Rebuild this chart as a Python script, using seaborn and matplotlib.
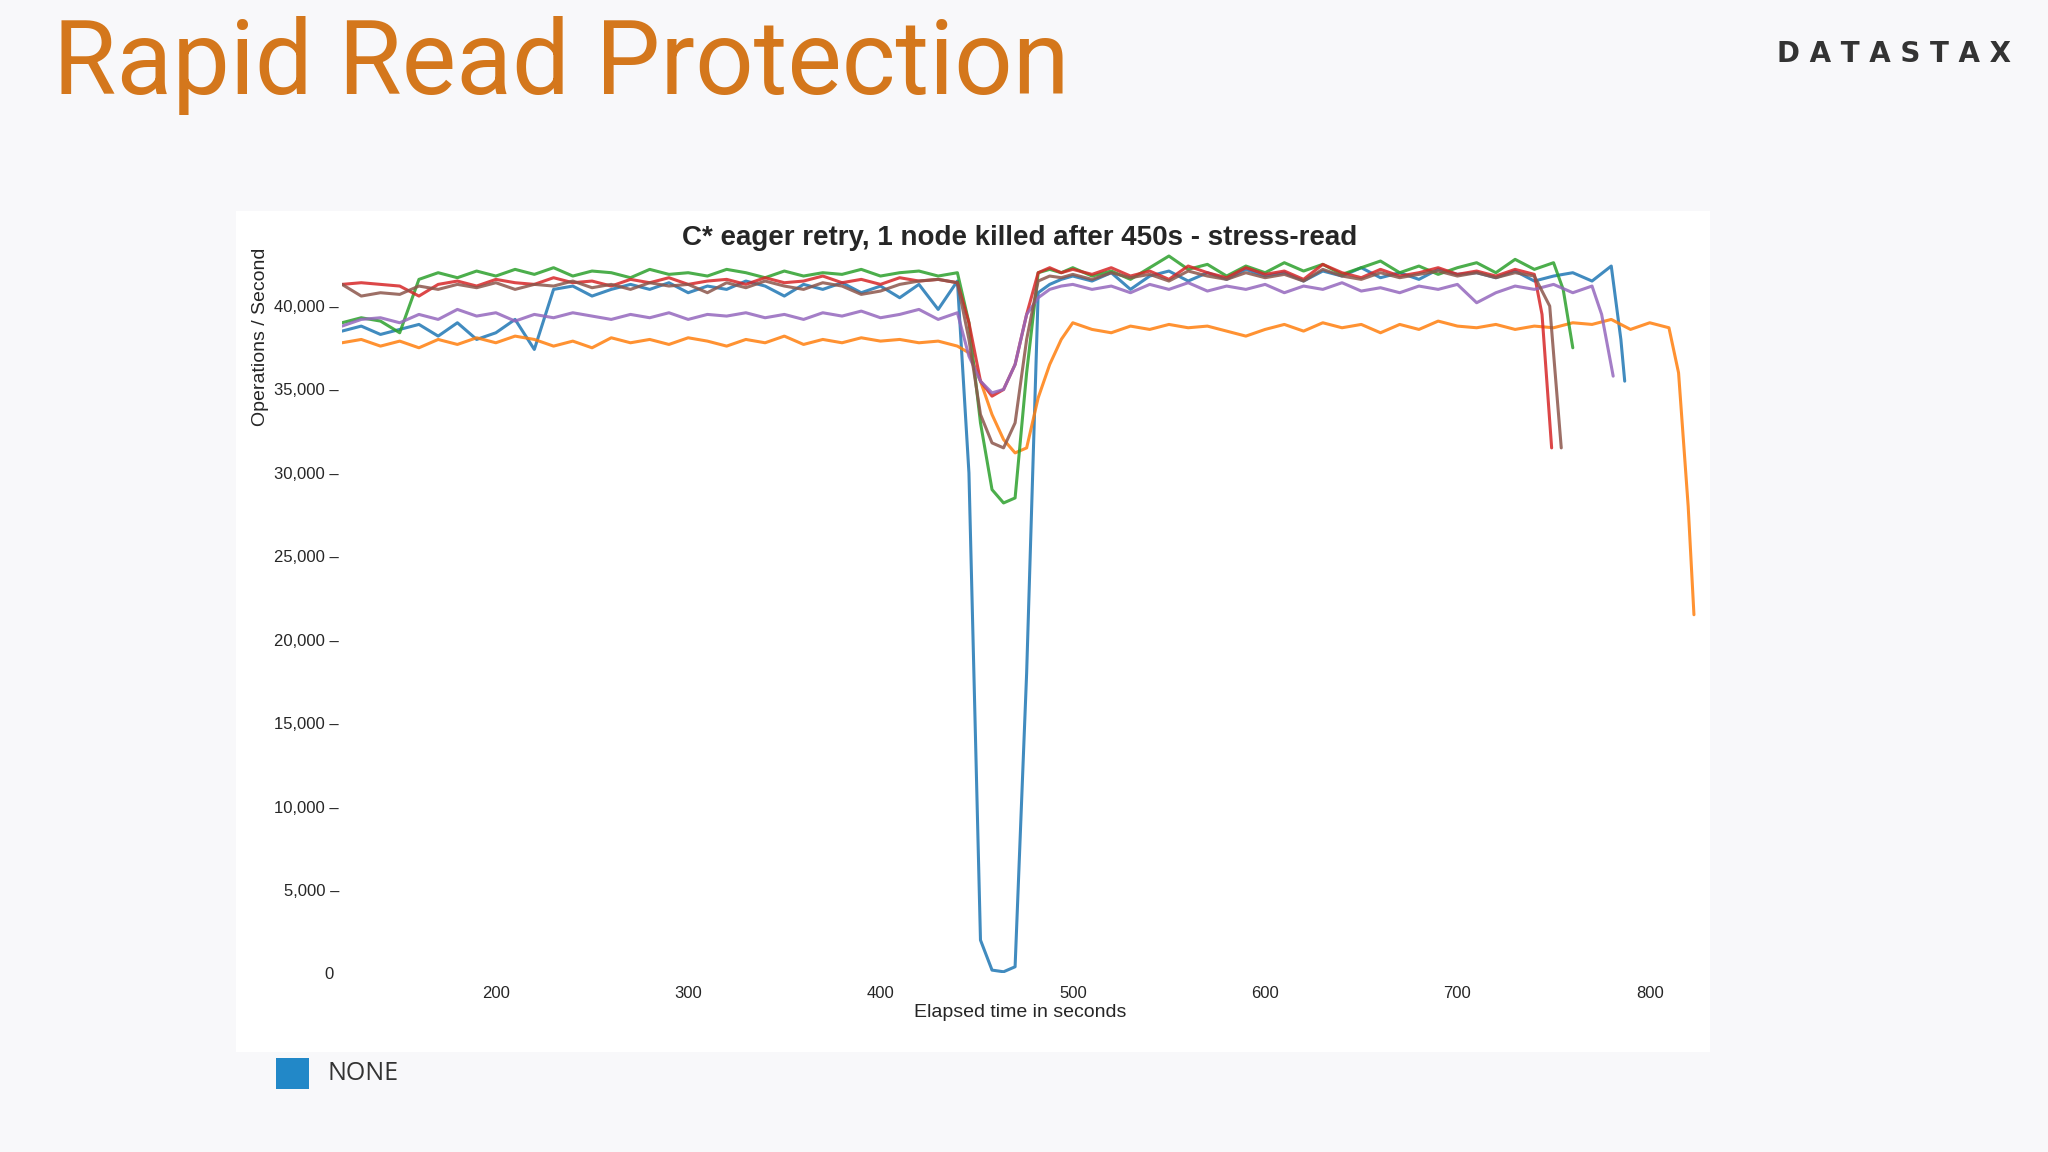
import numpy as np
import pandas as pd
import matplotlib
matplotlib.use("Agg")
import matplotlib.pyplot as plt
import seaborn as sns
from matplotlib.patches import Rectangle

# === DATA (thousands of ops/s) ===
t_main = list(range(120, 441, 10)) + [446, 452, 458, 464, 470, 476, 482, 488, 494] + list(range(500, 741, 10))

blue = [38.5, 38.8, 38.3, 38.6, 38.9, 38.2, 39.0, 38.0, 38.4, 39.2, 37.4, 41.0, 41.2, 40.6, 41.0, 41.3, 41.0,
        41.4, 40.8, 41.2, 41.0, 41.5, 41.2, 40.6, 41.3, 41.0, 41.4, 40.8, 41.2, 40.5, 41.3, 39.8, 41.5,
        30.0, 2.0, 0.2, 0.1, 0.4, 18.0, 40.8, 41.3, 41.6,
        41.8, 41.5, 42.0, 41.0, 41.8, 42.1, 41.5, 42.0, 41.6, 42.2, 41.8, 42.0, 41.5, 42.1, 41.8, 42.3, 41.7,
        42.0, 41.6, 42.2, 41.9, 42.0, 41.7, 42.1, 41.5]
blue_tail_t = [750, 760, 770, 780, 785, 787]
blue_tail = [41.8, 42.0, 41.5, 42.4, 38.0, 35.5]

orange = [37.8, 38.0, 37.6, 37.9, 37.5, 38.0, 37.7, 38.1, 37.8, 38.2, 38.0, 37.6, 37.9, 37.5, 38.1, 37.8, 38.0,
          37.7, 38.1, 37.9, 37.6, 38.0, 37.8, 38.2, 37.7, 38.0, 37.8, 38.1, 37.9, 38.0, 37.8, 37.9, 37.6,
          37.2, 35.5, 33.5, 32.0, 31.2, 31.5, 34.5, 36.5, 38.0,
          39.0, 38.6, 38.4, 38.8, 38.6, 38.9, 38.7, 38.8, 38.5, 38.2, 38.6, 38.9, 38.5, 39.0, 38.7, 38.9, 38.4,
          38.9, 38.6, 39.1, 38.8, 38.7, 38.9, 38.6, 38.8]
orange_tail_t = [750, 760, 770, 780, 790, 800, 810, 815, 820, 823]
orange_tail = [38.7, 39.0, 38.9, 39.2, 38.6, 39.0, 38.7, 36.0, 28.0, 21.5]

green = [39.0, 39.3, 39.1, 38.4, 41.6, 42.0, 41.7, 42.1, 41.8, 42.2, 41.9, 42.3, 41.8, 42.1, 42.0, 41.7, 42.2,
         41.9, 42.0, 41.8, 42.2, 42.0, 41.7, 42.1, 41.8, 42.0, 41.9, 42.2, 41.8, 42.0, 42.1, 41.8, 42.0,
         39.0, 33.0, 29.0, 28.2, 28.5, 36.0, 42.0, 42.2, 42.0,
         42.3, 41.8, 42.1, 41.6, 42.3, 43.0, 42.2, 42.5, 41.8, 42.4, 42.0, 42.6, 42.1, 42.5, 41.9, 42.3, 42.7,
         42.0, 42.4, 41.9, 42.3, 42.6, 42.0, 42.8, 42.2]
green_tail_t = [750, 755, 760]
green_tail = [42.6, 41.0, 37.5]

red = [41.3, 41.4, 41.3, 41.2, 40.6, 41.3, 41.5, 41.2, 41.6, 41.4, 41.3, 41.7, 41.4, 41.5, 41.2, 41.6, 41.4,
       41.7, 41.3, 41.5, 41.6, 41.3, 41.7, 41.4, 41.5, 41.8, 41.4, 41.6, 41.3, 41.7, 41.5, 41.6, 41.4,
       39.0, 35.5, 34.6, 35.0, 36.5, 39.5, 42.0, 42.3, 42.0,
       42.2, 41.9, 42.3, 41.8, 42.1, 41.6, 42.4, 42.0, 41.7, 42.3, 41.9, 42.1, 41.6, 42.5, 42.0, 41.7, 42.2,
       41.8, 42.0, 42.3, 41.9, 42.1, 41.8, 42.2, 41.9]
red_tail_t = [744, 749]
red_tail = [39.5, 31.5]

brown = [41.3, 40.6, 40.8, 40.7, 41.2, 41.0, 41.3, 41.1, 41.4, 41.0, 41.3, 41.2, 41.5, 41.1, 41.3, 41.0, 41.4,
         41.2, 41.3, 40.8, 41.4, 41.1, 41.5, 41.2, 41.0, 41.4, 41.2, 40.7, 40.9, 41.3, 41.5, 41.6, 41.4,
         38.0, 33.5, 31.8, 31.5, 33.0, 38.0, 41.5, 41.8, 41.7,
         41.9, 41.6, 42.0, 41.7, 41.9, 41.5, 42.1, 41.8, 41.6, 42.0, 41.7, 41.9, 41.5, 42.2, 41.8, 41.6, 42.0,
         41.7, 41.9, 42.1, 41.8, 42.0, 41.7, 42.0, 41.8]
brown_tail_t = [748, 754]
brown_tail = [40.0, 31.5]

purple = [38.8, 39.2, 39.3, 39.0, 39.5, 39.2, 39.8, 39.4, 39.6, 39.1, 39.5, 39.3, 39.6, 39.4, 39.2, 39.5, 39.3,
          39.6, 39.2, 39.5, 39.4, 39.6, 39.3, 39.5, 39.2, 39.6, 39.4, 39.7, 39.3, 39.5, 39.8, 39.2, 39.6,
          37.0, 35.5, 34.8, 35.0, 36.5, 39.5, 40.5, 41.0, 41.2,
          41.3, 41.0, 41.2, 40.8, 41.3, 41.0, 41.4, 40.9, 41.2, 41.0, 41.3, 40.8, 41.2, 41.0, 41.4, 40.9, 41.1,
          40.8, 41.2, 41.0, 41.3, 40.2, 40.8, 41.2, 41.0]
purple_tail_t = [750, 760, 770, 775, 781]
purple_tail = [41.3, 40.8, 41.2, 39.5, 35.8]

series = [
    ("blue", blue, blue_tail_t, blue_tail, "#1f77b4"),
    ("orange", orange, orange_tail_t, orange_tail, "#ff7f0e"),
    ("green", green, green_tail_t, green_tail, "#2ca02c"),
    ("red", red, red_tail_t, red_tail, "#d62728"),
    ("purple", purple, purple_tail_t, purple_tail, "#9467bd"),
    ("brown", brown, brown_tail_t, brown_tail, "#8c564b"),
]

rows = []
for name, vals, tt, tv, _ in series:
    for t, v in zip(t_main + tt, vals + tv):
        rows.append({"run": name, "t": t, "ops": v * 1000})
df = pd.DataFrame(rows)
palette = {name: c for name, _, _, _, c in series}

sns.set_theme(style="white")
plt.rcParams["font.family"] = ["Liberation Sans", "DejaVu Sans"]

fig = plt.figure(figsize=(20.48, 11.52), dpi=100)
fig.patch.set_facecolor("#f8f8fa")

# white chart panel (behind the axes)
panel = fig.add_axes([0.115, 0.087, 0.72, 0.73], zorder=0)
panel.axis("off")
panel.add_patch(Rectangle((0, 0), 1, 1, transform=panel.transAxes, facecolor="white", edgecolor="none"))

ax = fig.add_axes([0.167, 0.155, 0.662, 0.63], zorder=1)
ax.patch.set_alpha(0)
sns.lineplot(data=df, x="t", y="ops", hue="run", palette=palette, linewidth=2.2,
             alpha=0.85, legend=False, ax=ax, sort=False, estimator=None)

ax.set_xlim(120, 825)
ax.set_ylim(0, 43500)
ax.set_xticks([200, 300, 400, 500, 600, 700, 800])
ax.set_xticklabels(["200", "300", "400", "500", "600", "700", "800"], fontsize=12)
yt = list(range(0, 40001, 5000))
ax.set_yticks(yt)
ax.set_yticklabels(["0 "] + [f"{v:,} –" for v in yt[1:]], fontsize=12)
ax.tick_params(axis="y", length=0, pad=2)
ax.tick_params(axis="x", length=0, pad=9)
for s in ax.spines.values():
    s.set_visible(False)
ax.set_xlabel("Elapsed time in seconds", fontsize=14, labelpad=2)
ax.set_ylabel("Operations / Second", fontsize=14, labelpad=4, loc="top")
ax.set_title("C* eager retry, 1 node killed after 450s - stress-read", fontsize=20,
             fontweight="semibold", pad=2)

# slide title, logo, legend
fig.text(0.026, 0.943, "Rapid Read Protection", color="#d4771c", fontsize=74,
         family=["Roboto", "DejaVu Sans"], va="center")
fig.text(0.982, 0.953, "D A T A S T A X", color="#333333", fontsize=20, ha="right", va="center",
         family=["DejaVu Sans"], fontweight="bold")
fig.patches.append(Rectangle((0.135, 0.055), 0.016, 0.027, transform=fig.transFigure,
                             facecolor="#2288c8", edgecolor="none"))
fig.text(0.16, 0.068, "NONE", fontsize=18, color="#333333", va="center",
         family=["Open Sans", "DejaVu Sans"])

fig.savefig("out.png", dpi=100, facecolor=fig.get_facecolor())
